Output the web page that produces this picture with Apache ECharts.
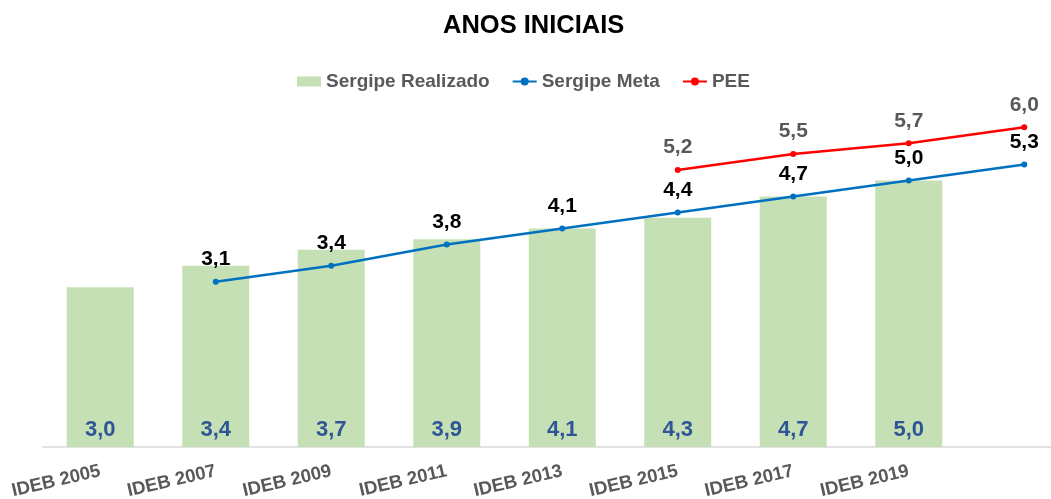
<!DOCTYPE html>
<html>
<head>
<meta charset="utf-8">
<script src="https://cdn.jsdelivr.net/npm/echarts@6/dist/echarts.min.js"></script>
<style>html,body{margin:0;padding:0;background:#fff;overflow:hidden;width:1051px;height:499px;}#c{width:1082px;height:499px;}</style>
</head>
<body>
<div id="c"></div>
<script>
const categories = ['IDEB 2005','IDEB 2007','IDEB 2009','IDEB 2011','IDEB 2013','IDEB 2015','IDEB 2017','IDEB 2019',''];
const realizado = [3.0, 3.4, 3.7, 3.9, 4.1, 4.3, 4.7, 5.0, null];
const meta = [null, 3.1, 3.4, 3.8, 4.1, 4.4, 4.7, 5.0, 5.3];
const pee = [null, null, null, null, null, 5.2, 5.5, 5.7, 6.0];

const fmt = p => (p.value == null ? '' : Number(p.value).toFixed(1).replace('.', ','));
const FONT = '"Liberation Sans", Arial, sans-serif';

const chart = echarts.init(document.getElementById('c'), null, {renderer: 'canvas'});
chart.setOption({
  animation: false,
  backgroundColor: '#ffffff',
  textStyle: {fontFamily: FONT},
  title: {
    text: 'ANOS INICIAIS',
    left: 438,
    top: 8,
    textStyle: {fontFamily: FONT, fontSize: 25.5, fontWeight: 'bold', color: '#000000'}
  },
  legend: {
    top: 67,
    left: 292,
    itemGap: 22,
    itemWidth: 24,
    itemHeight: 10,
    textStyle: {fontFamily: FONT, fontSize: 19, fontWeight: 'bold', color: '#595959'},
    data: [
      {name: 'Sergipe Realizado', icon: 'rect'},
      {name: 'Sergipe Meta'},
      {name: 'PEE'}
    ]
  },
  grid: {left: 42.5, right: 0, top: 74, bottom: 52, containLabel: false, outerBoundsMode: 'none'},
  xAxis: {
    type: 'category',
    data: categories,
    boundaryGap: true,
    axisLine: {show: true, lineStyle: {color: '#d9d9d9', width: 1.5}},
    axisTick: {show: false},
    axisLabel: {
      rotate: 13,
      margin: 24,
      interval: 0,
      fontFamily: FONT,
      fontSize: 18.5,
      fontWeight: 'bold',
      color: '#595959'
    }
  },
  yAxis: {
    type: 'value',
    min: 0,
    max: 7,
    show: false,
    splitLine: {show: false}
  },
  series: [
    {
      name: 'Sergipe Realizado',
      type: 'bar',
      data: realizado,
      barWidth: 67,
      itemStyle: {color: '#c5e0b4'},
      label: {
        show: true,
        position: 'insideBottom',
        distance: 6,
        formatter: fmt,
        fontFamily: FONT,
        fontSize: 22,
        fontWeight: 'bold',
        color: '#2f5597'
      },
      z: 1
    },
    {
      name: 'Sergipe Meta',
      type: 'line',
      data: meta,
      symbol: 'circle',
      symbolSize: 6,
      lineStyle: {color: '#0070c0', width: 2.5},
      itemStyle: {color: '#0070c0'},
      connectNulls: false,
      clip: false,
      label: {
        show: true,
        position: 'top',
        distance: 9,
        formatter: fmt,
        fontFamily: FONT,
        fontSize: 21,
        fontWeight: 'bold',
        color: '#000000'
      },
      z: 3
    },
    {
      name: 'PEE',
      type: 'line',
      data: pee,
      symbol: 'circle',
      symbolSize: 6,
      lineStyle: {color: '#ff0000', width: 2.5},
      itemStyle: {color: '#ff0000'},
      clip: false,
      label: {
        show: true,
        position: 'top',
        distance: 9,
        formatter: fmt,
        fontFamily: FONT,
        fontSize: 21,
        fontWeight: 'bold',
        color: '#595959'
      },
      z: 3
    }
  ]
});
</script>
</body>
</html>
